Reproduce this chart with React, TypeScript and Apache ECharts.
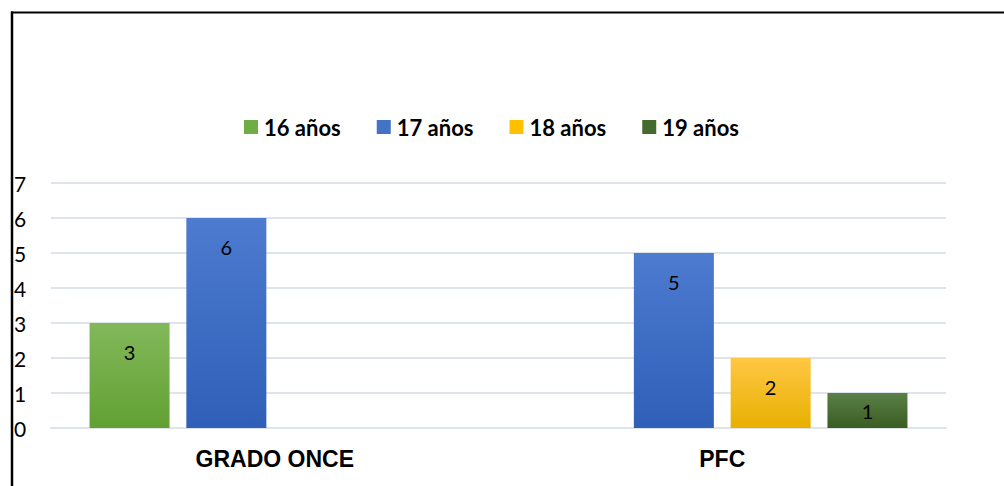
import React, { useEffect, useRef } from "react";
import * as echarts from "echarts";

const categories = ["GRADO ONCE", "PFC"];
const seriesNames = ["16 años", "17 años", "18 años", "19 años"];
const values16 = [3, null];
const values17 = [6, 5];
const values18 = [null, 2];
const values19 = [null, 1];
const yTicks = [0, 1, 2, 3, 4, 5, 6, 7];

const grad = (top: string, bottom: string) =>
  new echarts.graphic.LinearGradient(0, 0, 0, 1, [
    { offset: 0, color: top },
    { offset: 1, color: bottom },
  ]);

export default function App() {
  const ref = useRef<HTMLDivElement>(null);
  useEffect(() => {
    if (!ref.current) return;
    const chart = echarts.init(ref.current, null, { renderer: "svg" });
    const colors = [
      grad("#82b85a", "#62a033"),
      grad("#4c7bd0", "#2f5fb7"),
      grad("#ffc744", "#e8b000"),
      grad("#5b8047", "#395d22"),
    ];
    const legendColors = ["#70ad47", "#4472c4", "#ffc000", "#446b2e"];
    const data = [values16, values17, values18, values19];
    const mkData = (arr: (number | null)[]) =>
      arr.map((v) =>
        v === null
          ? null
          : v <= 1
          ? { value: v, label: { position: "inside" } }
          : { value: v }
      );
    chart.setOption({
      animation: false,
      color: legendColors,
      legend: {
        top: 116,
        left: 244,
        padding: 0,
        itemWidth: 14,
        itemHeight: 14,
        itemGap: 36,
        icon: "rect",
        textStyle: {
          fontFamily: "Lato",
          fontWeight: "bold",
          fontSize: 22,
          color: "#000",
          padding: [0, 0, 0, 1],
        },
        data: seriesNames.map((n, i) => ({
          name: n,
          itemStyle: { color: legendColors[i] },
        })),
      },
      grid: { left: 51, right: 58, top: 183, bottom: 58 },
      xAxis: {
        type: "category",
        data: categories,
        axisTick: { show: false },
        axisLine: { show: true, lineStyle: { color: "#dfe3ea", width: 2 } },
        axisLabel: {
          margin: 19,
          fontFamily: "Liberation Sans",
          fontWeight: "bold",
          fontSize: 23,
          color: "#000",
        },
      },
      yAxis: {
        type: "value",
        min: yTicks[0],
        max: yTicks[yTicks.length - 1],
        interval: 1,
        axisLine: { show: false },
        axisTick: { show: false },
        splitLine: { lineStyle: { color: "#dfe3ea", width: 2 } },
        axisLabel: {
          align: "left",
          margin: 37,
          fontFamily: "Lato",
          fontSize: 21,
          color: "#000",
        },
      },
      series: seriesNames.map((name, i) => ({
        name,
        type: "bar",
        barWidth: 80,
        barGap: "21%",
        data: mkData(data[i]),
        itemStyle: { color: colors[i] },
        label: {
          show: true,
          position: "insideTop",
          distance: 19,
          fontFamily: "Lato",
          fontSize: 20,
          color: "#000",
        },
      })),
      graphic: [
        {
          type: "line",
          shape: { x1: 11, y1: 12.5, x2: 1004, y2: 12.5 },
          style: { stroke: "#000", lineWidth: 2 },
        },
        {
          type: "line",
          shape: { x1: 12, y1: 11.5, x2: 12, y2: 486 },
          style: { stroke: "#000", lineWidth: 2.5 },
        },
      ],
    });
    return () => chart.dispose();
  }, []);
  return (
    <div
      ref={ref}
      style={{ position: "fixed", left: 0, top: 0, width: 1004, height: 486, background: "#fff" }}
    />
  );
}
